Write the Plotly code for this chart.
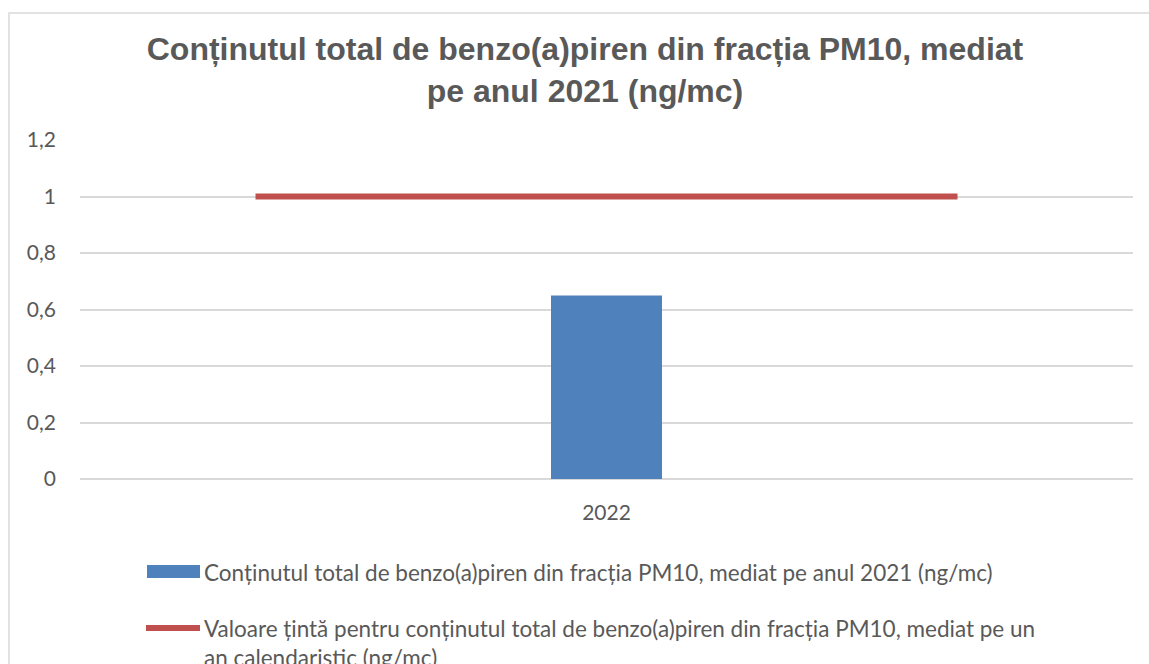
import plotly.graph_objects as go

# ---- data ----
categories = ["2022"]
bar_values = [0.65]
bar_name = "Conținutul total de benzo(a)piren din fracția PM10, mediat pe anul 2021 (ng/mc)"
target_x = [0, 1]
target_values = [1, 1]
target_name = "Valoare țintă pentru conținutul total de benzo(a)piren din fracția PM10, mediat pe un<br>an calendaristic (ng/mc)"
y_ticks = [0, 0.2, 0.4, 0.6, 0.8, 1, 1.2]
y_tick_labels = ["0", "0,2", "0,4", "0,6", "0,8", "1", "1,2"]
title_text = "<b>Conținutul total de benzo(a)piren din fracția PM10, mediat<br>pe anul 2021 (ng/mc)</b>"

W, H = 1149, 664
L, R, T, B = 80, 1133, 140, 479

def px(x):
    return (x - L) / (R - L)

def py(y):
    return (B - y) / (B - T)

TXT = "#595959"
GRID = "#D9D9D9"
BLUE = "#4F81BD"
RED = "#C0504D"
FONT = "Lato, 'Open Sans', sans-serif"

fig = go.Figure()
fig.add_trace(go.Bar(x=categories, y=bar_values, name=bar_name,
                     marker=dict(color=BLUE, line=dict(width=0)),
                     showlegend=False))
fig.add_trace(go.Scatter(x=target_x, y=target_values, name=target_name,
                         mode="lines", xaxis="x2",
                         line=dict(color=RED, width=6),
                         showlegend=False))

shapes = [
    dict(type="rect", xref="paper", yref="paper",
         x0=px(9), x1=px(1175), y0=py(13), y1=py(700),
         line=dict(color=GRID, width=1.5), fillcolor="rgba(0,0,0,0)", layer="below"),
    # legend symbols
    dict(type="rect", xref="paper", yref="paper",
         x0=px(147), x1=px(200), y0=py(578), y1=py(565),
         line=dict(width=0), fillcolor=BLUE),
    dict(type="line", xref="paper", yref="paper",
         x0=px(146), x1=px(200), y0=py(628), y1=py(628),
         line=dict(color=RED, width=6)),
]

annotations = [
    dict(text=bar_name, xref="paper", yref="paper", x=px(202), y=py(572),
         xanchor="left", yanchor="middle", showarrow=False, align="left",
         font=dict(family=FONT, size=22.5, color=TXT)),
    dict(text=target_name, xref="paper", yref="paper", x=px(202), y=py(613),
         xanchor="left", yanchor="top", showarrow=False, align="left",
         font=dict(family=FONT, size=22.5, color=TXT)),
]

fig.update_layout(
    width=W, height=H,
    margin=dict(l=L, r=W - R, t=T, b=H - B, pad=0),
    paper_bgcolor="white", plot_bgcolor="white",
    title=dict(text=title_text, x=585 / W, xanchor="center", xref="container",
               y=1 - 60 / H, yanchor="top",
               font=dict(family="'Liberation Sans', Arial, sans-serif", size=32, color=TXT)),
    bargap=1 - 111 / (R - L),
    showlegend=False,
    shapes=shapes,
    annotations=annotations,
    xaxis=dict(type="category", showgrid=False, showline=False, zeroline=False,
               ticks="", tickfont=dict(family=FONT, size=21, color=TXT),
               ticklabelstandoff=19, fixedrange=True),
    xaxis2=dict(overlaying="x", range=[-0.25, 1.25], visible=False, fixedrange=True),
    yaxis=dict(range=[0, 1.2], tickvals=y_ticks, ticktext=y_tick_labels,
               showgrid=True, gridcolor=GRID, gridwidth=1.5,
               zeroline=True, zerolinecolor=GRID, zerolinewidth=1.5,
               showline=False, ticks="",
               tickfont=dict(family=FONT, size=21, color=TXT),
               ticklabelstandoff=23, fixedrange=True),
)

fig.write_html("out.html", config={"displayModeBar": False},
               post_script="document.body.style.margin='0';document.body.style.overflow='hidden';")
